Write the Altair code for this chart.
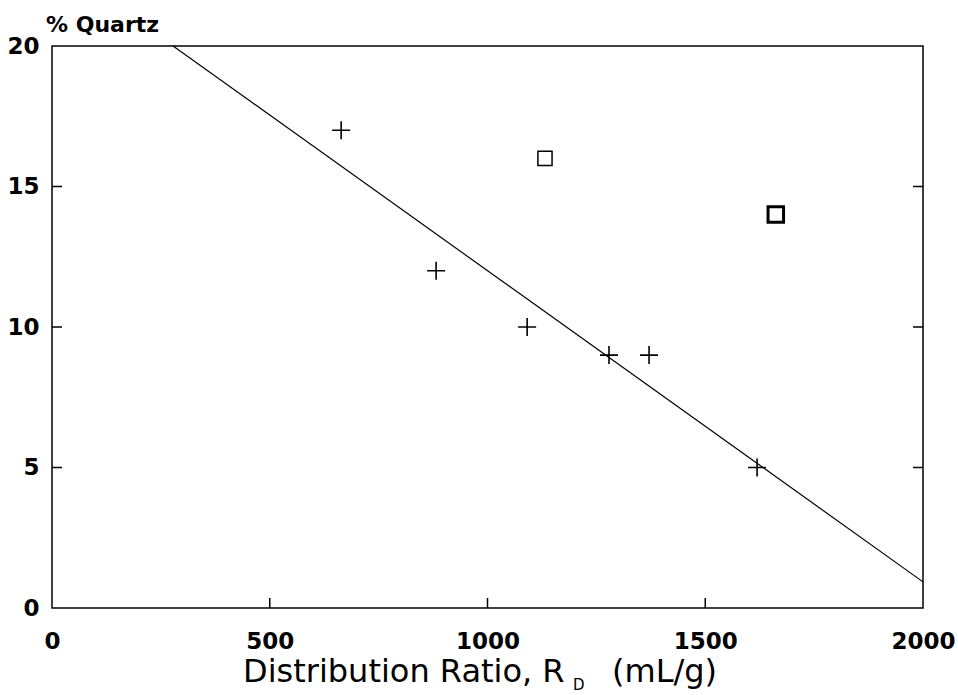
import altair as alt
import pandas as pd

# ---- data ----
plus_x = [664, 882, 1091, 1279, 1371, 1619]
plus_y = [17, 12, 10, 9, 9, 5]
square_x = [1132]
square_y = [16]
square_bold_x = [1662]
square_bold_y = [14]
line_x = [278, 2000]
line_y = [20, 0.93]

x_tick_values = [0, 500, 1000, 1500, 2000]
y_tick_values = [0, 5, 10, 15, 20]
x_inner_ticks = [500, 1000, 1500]
y_inner_ticks = [5, 10, 15]

y_title = "% Quartz"
x_title_main = "Distribution Ratio, R"
x_title_sub = "D"
x_title_unit = "(mL/g)"

W, H = 871, 562
TICK = 10

xs = alt.Scale(domain=[0, 2000], nice=False, zero=False)
ys = alt.Scale(domain=[0, 20], nice=False, zero=False)

label_font = "DejaVu Sans"

x_axis = alt.Axis(values=x_tick_values, domain=False, ticks=False, grid=False,
                  title=None, labelFont=label_font, labelFontSize=23,
                  labelFontWeight="bold", labelColor="black", labelPadding=22,
                  labelFlush=False, labelOverlap=False, format="d")
y_axis = alt.Axis(values=y_tick_values, domain=False, ticks=False, grid=False,
                  title=None, labelFont=label_font, labelFontSize=23,
                  labelFontWeight="bold", labelColor="black", labelPadding=13,
                  labelOverlap=False, format="d")

plus_df = pd.DataFrame({"x": plus_x, "y": plus_y})
sq_df = pd.DataFrame({"x": square_x, "y": square_y})
sqb_df = pd.DataFrame({"x": square_bold_x, "y": square_bold_y})
line_df = pd.DataFrame({"x": line_x, "y": line_y})

line = alt.Chart(line_df).mark_line(color="black", strokeWidth=1.2).encode(
    x=alt.X("x:Q", scale=xs, axis=x_axis),
    y=alt.Y("y:Q", scale=ys, axis=y_axis),
)

plus = alt.Chart(plus_df).mark_point(
    shape="M -1 0 L 1 0 M 0 -1 L 0 1", filled=False, color="black",
    strokeWidth=1.6, size=324, opacity=1,
).encode(x=alt.X("x:Q", scale=xs), y=alt.Y("y:Q", scale=ys))

sq = alt.Chart(sq_df).mark_point(
    shape="square", filled=False, color="black", strokeWidth=1.5, size=200, opacity=1,
).encode(x=alt.X("x:Q", scale=xs), y=alt.Y("y:Q", scale=ys))

sqb = alt.Chart(sqb_df).mark_point(
    shape="square", filled=False, color="black", strokeWidth=3, size=240, opacity=1,
).encode(x=alt.X("x:Q", scale=xs), y=alt.Y("y:Q", scale=ys))

bt_df = pd.DataFrame({"x": x_inner_ticks})
bottom_ticks = alt.Chart(bt_df).mark_rule(color="black", strokeWidth=1.5).encode(
    x=alt.X("x:Q", scale=xs), y=alt.value(H), y2=alt.value(H - TICK))

yt_df = pd.DataFrame({"y": y_inner_ticks})
left_ticks = alt.Chart(yt_df).mark_rule(color="black", strokeWidth=1.5).encode(
    y=alt.Y("y:Q", scale=ys), x=alt.value(0), x2=alt.value(TICK))
right_ticks = alt.Chart(yt_df).mark_rule(color="black", strokeWidth=1.5).encode(
    y=alt.Y("y:Q", scale=ys), x=alt.value(W - TICK), x2=alt.value(W))

ytitle = alt.Chart(pd.DataFrame({"t": [y_title]})).mark_text(
    font="DejaVu Sans", fontSize=22, fontWeight="bold", align="left",
    baseline="alphabetic", color="black",
).encode(text="t:N", x=alt.value(-6), y=alt.value(-14))

xt_main = alt.Chart(pd.DataFrame({"t": [x_title_main]})).mark_text(
    font="DejaVu Sans", fontSize=32, align="left", baseline="alphabetic", color="black",
).encode(text="t:N", x=alt.value(191), y=alt.value(636))

xt_sub = alt.Chart(pd.DataFrame({"t": [x_title_sub]})).mark_text(
    font="DejaVu Sans", fontSize=15, align="left", baseline="alphabetic", color="black",
).encode(text="t:N", x=alt.value(521), y=alt.value(644))

xt_unit = alt.Chart(pd.DataFrame({"t": [x_title_unit]})).mark_text(
    font="DejaVu Sans", fontSize=32, align="left", baseline="alphabetic", color="black",
).encode(text="t:N", x=alt.value(560), y=alt.value(636))

chart = alt.layer(
    line, plus, sq, sqb, bottom_ticks, left_ticks, right_ticks,
    ytitle, xt_main, xt_sub, xt_unit,
).properties(
    width=W, height=H,
    autosize=alt.AutoSizeParams(type="none"),
    padding={"left": 52, "top": 46, "right": 35, "bottom": 87},
    background="white",
).configure_view(stroke="black", strokeWidth=1.5)

chart.save("out.html", embed_options={"renderer": "svg", "actions": False})
